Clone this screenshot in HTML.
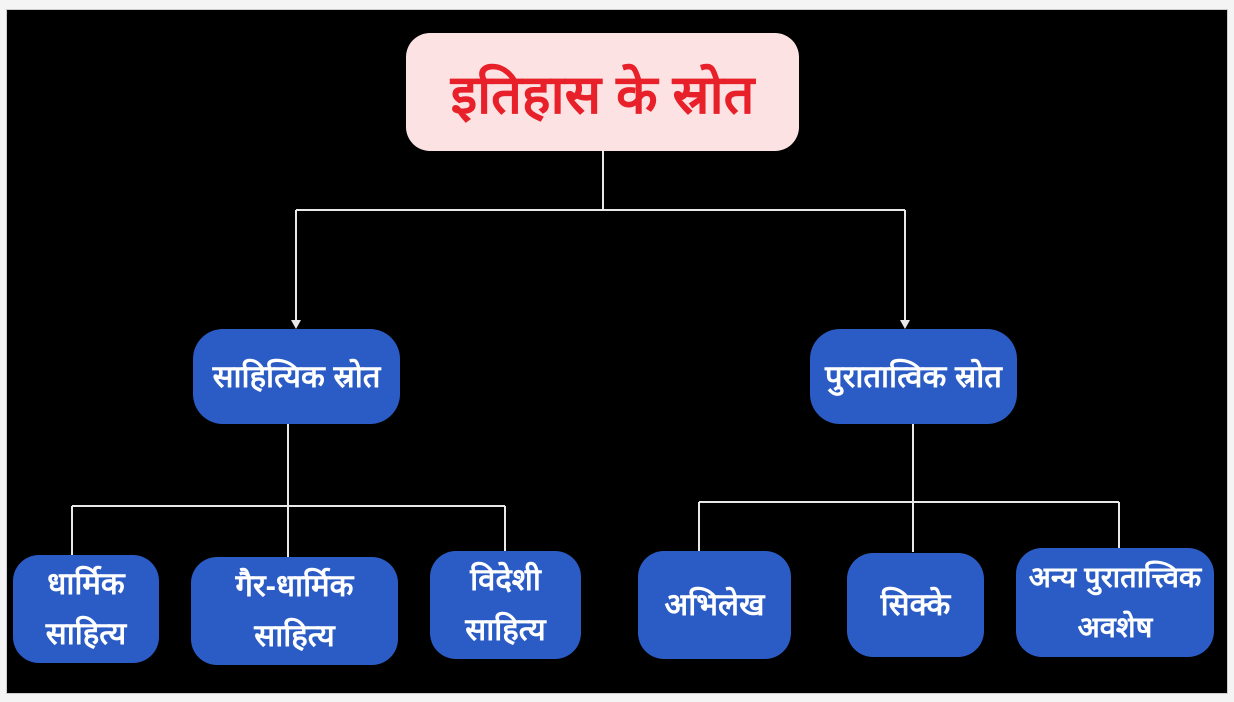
<!DOCTYPE html>
<html><head><meta charset="utf-8"><style>
html,body{margin:0;padding:0;width:1234px;height:702px;background:#f4f4f4;overflow:hidden;position:relative;font-family:"Liberation Sans","Noto Sans CJK SC",sans-serif}
.bg{position:absolute;left:6px;top:9px;width:1222px;height:685px;background:#000;border:1px solid #ccc;box-sizing:border-box}
.b{position:absolute;background:#2b5cc6;color:#fff;border-radius:26px;display:flex;align-items:center;justify-content:center;text-align:center;font-weight:bold;font-size:31px;line-height:50px}
.root{position:absolute;left:406px;top:33px;width:393px;height:118px;background:#fde2e3;border-radius:24px;color:#e8202a;font-weight:bold;font-size:54px;display:flex;align-items:center;justify-content:center}
svg{position:absolute;left:0;top:0}
</style></head><body>
<div class="bg"></div>
<svg width="1234" height="702">
<g stroke="#e8e8e8" stroke-width="2" fill="none">
<path d="M603 151V210M296 210H905M296 210V322M905 210V322"/>
<path d="M288 424V506M72 506H505M72 506V555M288 506V557M505 506V551"/>
<path d="M913 424V552M699 502H1119M699 502V551M1119 502V548"/>
</g>
<path d="M291 320L296 329L301 320Z M900 320L905 329L910 320Z" fill="#e8e8e8"/>
</svg>
<div class="root">इतिहास के स्रोत</div>
<div class="b" style="left:193px;top:329px;width:207px;height:95px;border-radius:30px">साहित्यिक स्रोत</div>
<div class="b" style="left:810px;top:329px;width:207px;height:95px;border-radius:30px">पुरातात्विक स्रोत</div>
<div class="b" style="left:13px;top:555px;width:146px;height:108px">धार्मिक<br>साहित्य</div>
<div class="b" style="left:191px;top:557px;width:207px;height:108px">गैर-धार्मिक<br>साहित्य</div>
<div class="b" style="left:430px;top:551px;width:151px;height:108px">विदेशी<br>साहित्य</div>
<div class="b" style="left:638px;top:551px;width:153px;height:108px">अभिलेख</div>
<div class="b" style="left:847px;top:553px;width:137px;height:104px">सिक्के</div>
<div class="b" style="left:1016px;top:548px;width:198px;height:109px;font-size:29px">अन्य पुरातात्त्विक<br>अवशेष</div>
</body></html>
